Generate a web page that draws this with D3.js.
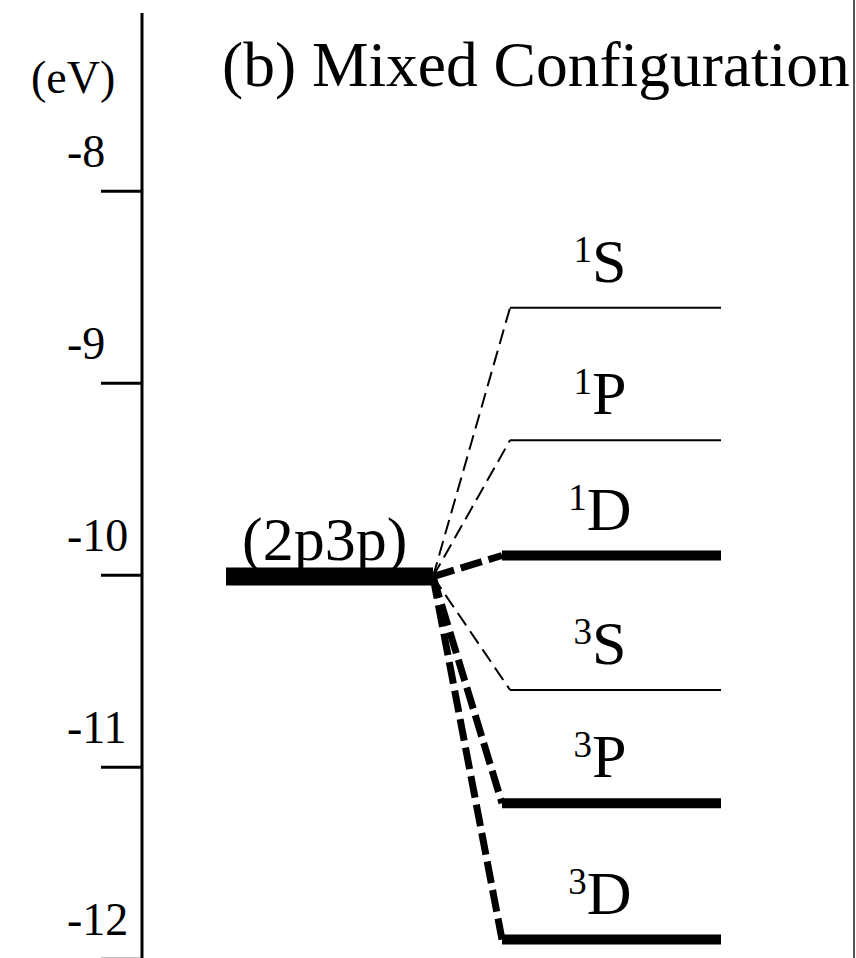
<!DOCTYPE html>
<html>
<head>
<meta charset="utf-8">
<script src="https://cdnjs.cloudflare.com/ajax/libs/d3/7.8.5/d3.min.js"></script>
<style>
  html, body { margin: 0; padding: 0; background: #fff; }
  svg { display: block; }
  text { font-family: "Times New Roman", Times, "Liberation Serif", serif; fill: #000; }
</style>
</head>
<body>
<div class="level-div"></div>
<script>
'use strict';

// energy axis ticks (eV)
var tickValues = [-8, -9, -10, -11, -12];
var tickLabels = ["-8", "-9", "-10", "-11", "-12"];

// unperturbed configuration
var configName = "(2p3p)";
var configEnergy = -10.01;

// LS terms of the mixed configuration
var termMult = ["1", "1", "1", "3", "3", "3"];
var termLetter = ["S", "P", "D", "S", "P", "D"];
var termEnergy = [-8.61, -9.30, -9.90, -10.60, -11.19, -11.90];
var termHeavy = [false, false, true, false, true, true];

var titleText = "(b) Mixed Configuration";
var unitText = "(eV)";

var width = 856;
var height = 958;
var axisX = 142;

const main = () => {
    var svg = d3.select(".level-div").append("svg")
        .attr("width", width)
        .attr("height", height);

    var y = d3.scaleLinear().domain([-8, -12]).range([190.7, 958.7]);
    // horizontal position, 0 = config bar start, 1 = config bar end
    var x = d3.scaleLinear().domain([0, 1]).range([226, 433]);

    drawAxis(svg, y);
    drawTitle(svg);
    drawLevels(svg, x, y);

    // thin gray frame edge on the right
    svg.append("line")
        .attr("x1", 854).attr("x2", 854)
        .attr("y1", 0).attr("y2", height)
        .attr("stroke", "#555")
        .attr("stroke-width", 2);
}

function drawAxis(svg, y){
    var axis = d3.axisLeft(y)
        .tickValues(tickValues)
        .tickSize(41)
        .tickSizeOuter(0)
        .tickFormat("");

    var g = svg.append("g")
        .attr("transform", "translate(" + axisX + ",0)")
        .call(axis);
    g.select(".domain").remove();
    g.selectAll(".tick line")
        .attr("stroke", "#000")
        .attr("stroke-width", 3);

    // the axis line itself runs from the top to the bottom of the picture
    svg.append("line")
        .attr("x1", axisX).attr("x2", axisX)
        .attr("y1", 13).attr("y2", height)
        .attr("stroke", "#000")
        .attr("stroke-width", 3);

    svg.selectAll(".tick-label")
        .data(tickValues)
        .enter().append("text")
        .attr("class", "tick-label")
        .attr("x", 67)
        .attr("y", d => y(d) - 24)
        .attr("font-size", "46px")
        .text((d, i) => tickLabels[i]);

    svg.append("text")
        .attr("x", 31)
        .attr("y", 93)
        .attr("font-size", "46px")
        .text(unitText);
}

function drawTitle(svg){
    svg.append("text")
        .attr("x", 222)
        .attr("y", 86)
        .attr("font-size", "63.5px")
        .text(titleText);
}

function drawLevels(svg, x, y){
    var data = termEnergy.map((e, i) => ({
        e: e, mult: termMult[i], letter: termLetter[i], heavy: termHeavy[i]
    }));

    var cy = y(configEnergy);
    var joinX = x(1);

    // dashed connectors from the config bar to each term
    svg.selectAll(".connector")
        .data(data)
        .enter().append("line")
        .attr("class", "connector")
        .attr("x1", joinX)
        .attr("y1", cy)
        .attr("x2", d => d.heavy ? 502 : 510)
        .attr("y2", d => y(d.e))
        .attr("stroke", "#000")
        .attr("stroke-width", d => d.heavy ? 7 : 2)
        .attr("stroke-dasharray", d => d.heavy ? "22,7" : "15,7");

    // config bar
    svg.append("line")
        .attr("x1", x(0)).attr("x2", x(1))
        .attr("y1", cy).attr("y2", cy)
        .attr("stroke", "#000")
        .attr("stroke-width", 18);

    svg.append("text")
        .attr("x", 242)
        .attr("y", 560)
        .attr("font-size", "62px")
        .text(configName);

    // term levels
    svg.selectAll(".term")
        .data(data)
        .enter().append("line")
        .attr("class", "term")
        .attr("x1", d => d.heavy ? 502 : 510)
        .attr("x2", 721)
        .attr("y1", d => y(d.e))
        .attr("y2", d => y(d.e))
        .attr("stroke", "#000")
        .attr("stroke-width", d => d.heavy ? 10 : 2);

    var labels = svg.selectAll(".term-label")
        .data(data)
        .enter().append("text")
        .attr("class", "term-label")
        .attr("x", 600)
        .attr("y", d => y(d.e) - 26)
        .style("text-anchor", "middle");

    labels.append("tspan")
        .attr("font-size", "37px")
        .attr("dy", "-20")
        .text(d => d.mult);
    labels.append("tspan")
        .attr("font-size", "62px")
        .attr("dy", "20")
        .text(d => d.letter);
}

main();
</script>
</body>
</html>
